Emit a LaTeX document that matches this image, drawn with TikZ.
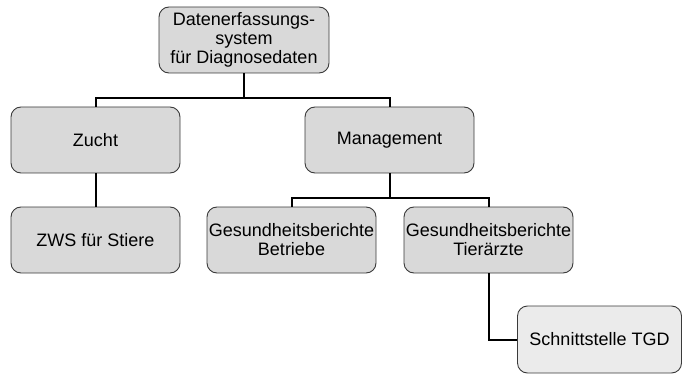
\documentclass[tikz,border=0pt]{standalone}
\usepackage{fontspec}
\setmainfont{Liberation Sans}
\usetikzlibrary{calc}
\definecolor{boxfill}{HTML}{D9D9D9}
\definecolor{boxfilllight}{HTML}{EBEBEB}
\definecolor{boxline}{HTML}{3A3A3A}
\tikzset{
  orgbox/.style={draw=boxline, line width=0.9pt, fill=boxfill, rounded corners=10pt,
    minimum width=169pt, minimum height=66pt, inner sep=0pt, align=center,
    font=\fontsize{18}{19}\selectfont},
  orgboxlight/.style={orgbox, fill=boxfilllight, minimum width=164pt, minimum height=67pt},
  link/.style={draw=black, line width=2pt}
}
\begin{document}
\begin{tikzpicture}[x=1pt, y=1pt]
  \useasboundingbox (0,0) rectangle (682,-374);
  % nodes
  \node[orgbox, minimum width=170pt] (root) at (244,-40) {Datenerfassungs-\\system\\für Diagnosedaten};
  \node[orgbox] (zucht) at (95.5,-140) {Zucht};
  \node[orgbox] (mgmt) at (389.5,-140) {Management};
  \node[orgbox] (zws) at (95.5,-240) {ZWS für Stiere};
  \node[orgbox] (gbb) at (291.5,-240) {Gesundheitsberichte\\Betriebe};
  \node[orgbox] (gbt) at (488.5,-240) {Gesundheitsberichte\\Tierärzte};
  \node[orgboxlight] (tgd) at (599.5,-339.5) {Schnittstelle TGD};
  % connectors
  \coordinate (busA) at ($(root.south)+(0,-24.5)$);
  \coordinate (busB) at ($(mgmt.south)+(0,-25)$);
  \draw[link] (root.south) -- (busA) -| (zucht.north);
  \draw[link] (busA) -| (mgmt.north);
  \draw[link] (zucht.south) -- (zws.north);
  \draw[link] (mgmt.south) -- (busB) -| (gbb.north);
  \draw[link] (busB) -| (gbt.north);
  \draw[link] (gbt.south) |- (tgd.west);
\end{tikzpicture}
\end{document}
